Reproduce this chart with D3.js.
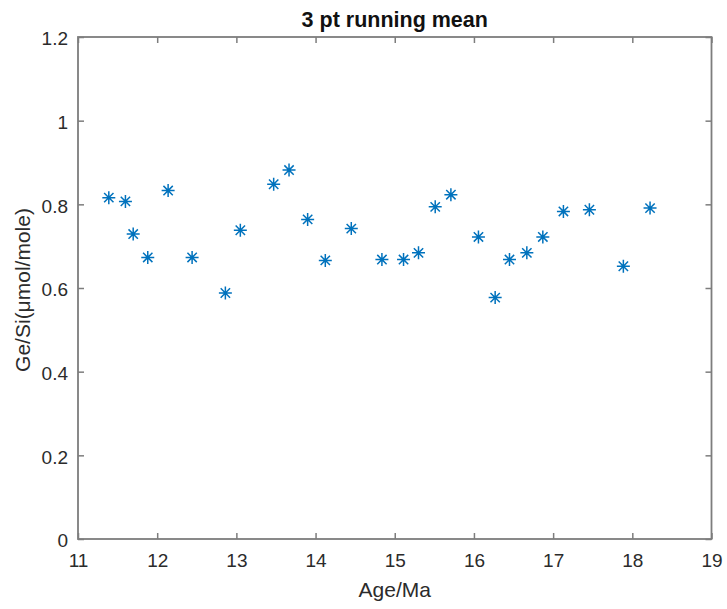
<!DOCTYPE html>
<html><head><meta charset="utf-8">
<script src="https://cdn.jsdelivr.net/npm/d3@7"></script>
<style>body{margin:0;background:#fff}svg{display:block}</style>
</head><body><svg id="c" width="727" height="609"></svg>
<script>
const ages = [11.389,11.599,11.697,11.881,12.138,12.441,12.861,13.050,13.471,13.665,13.900,14.123,14.451,14.838,15.111,15.300,15.511,15.709,16.057,16.268,16.449,16.668,16.870,17.130,17.458,17.887,18.224];
const geSi = [0.816,0.807,0.729,0.673,0.833,0.673,0.588,0.738,0.848,0.882,0.764,0.666,0.742,0.668,0.668,0.684,0.794,0.823,0.722,0.577,0.668,0.684,0.722,0.783,0.787,0.652,0.791];
const xTicks = [11,12,13,14,15,16,17,18,19];
const yTicks = [0,0.2,0.4,0.6,0.8,1,1.2];
const titleText = "3 pt running mean";
const xLabel = "Age/Ma";
const yLabel = "Ge/Si(\u03bcmol/mole)";

const L=78,R=711.5,T=37,B=539;
const svg=d3.select("#c");
const x=d3.scaleLinear().domain([11,19]).range([L,R]);
const y=d3.scaleLinear().domain([0,1.2]).range([B,T]);
const lineCol="#7d7d7d", txtCol="#2b2b2b", font="'Liberation Sans', Arial, sans-serif";
const tl=6;

// box
svg.append("rect").attr("x",L).attr("y",T).attr("width",R-L).attr("height",B-T)
  .attr("fill","none").attr("stroke",lineCol).attr("stroke-width",1.8);

const xa=d3.axisBottom(x).tickValues(xTicks).tickSizeInner(-tl).tickSizeOuter(0).tickPadding(15).tickFormat(d3.format("d"));
const gx=svg.append("g").attr("transform",`translate(0,${B})`).call(xa);
const xt=d3.axisTop(x).tickValues(xTicks).tickSizeInner(-tl).tickSizeOuter(0).tickFormat("");
const gxt=svg.append("g").attr("transform",`translate(0,${T})`).call(xt);
const ya=d3.axisLeft(y).tickValues(yTicks).tickSizeInner(-tl).tickSizeOuter(0).tickPadding(10).tickFormat(d=>d3.format("~g")(d));
const gy=svg.append("g").attr("transform",`translate(${L},0)`).call(ya);
const yr=d3.axisRight(y).tickValues(yTicks).tickSizeInner(-tl).tickSizeOuter(0).tickFormat("");
const gyr=svg.append("g").attr("transform",`translate(${R},0)`).call(yr);
[gx,gxt,gy,gyr].forEach(g=>{
  g.select(".domain").remove();
  g.selectAll("line").attr("stroke",lineCol).attr("stroke-width",1.5);
  g.selectAll("text").attr("fill",txtCol).style("font-family",font).style("font-size","19px");
});
gy.selectAll("text").attr("dy","0.42em");

svg.append("text").attr("x",(L+R)/2).attr("y",27).attr("text-anchor","middle")
  .style("font-family",font).style("font-size","21.5px").style("font-weight","bold").attr("fill","#111").text(titleText);
svg.append("text").attr("x",(L+R)/2).attr("y",597).attr("text-anchor","middle")
  .style("font-family",font).style("font-size","21px").attr("fill",txtCol).text(xLabel);
svg.append("text").attr("transform",`translate(30,${(T+B)/2+2}) rotate(-90)`).attr("text-anchor","middle")
  .style("font-family",font).style("font-size","21px").attr("fill",txtCol).text(yLabel);

// asterisk markers
const r=6.5, d=r*0.72;
const star=`M${-r},0L${r},0M0,${-r}L0,${r}M${-d},${-d}L${d},${d}M${-d},${d}L${d},${-d}`;
svg.append("g").selectAll("path").data(ages.map((a,i)=>[a,geSi[i]])).join("path")
  .attr("transform",p=>`translate(${x(p[0])},${y(p[1])})`)
  .attr("d",star).attr("stroke","#0072BD").attr("stroke-width",1.5).attr("fill","none");
</script></body></html>
